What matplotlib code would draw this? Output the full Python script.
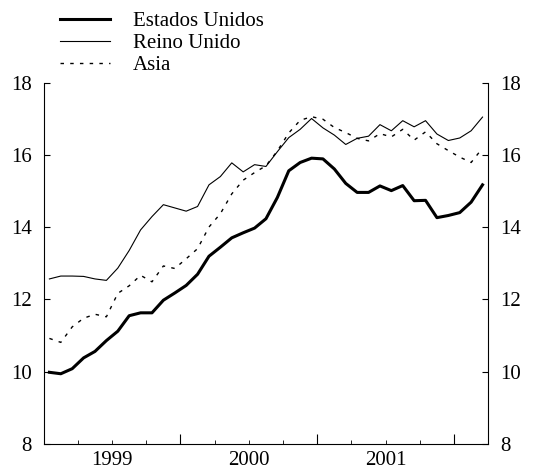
import numpy as np
import matplotlib.pyplot as plt
from matplotlib.ticker import FixedLocator, NullFormatter

plt.rcParams['font.family'] = ['Liberation Serif', 'DejaVu Serif']

# monthly data, Jan 1999 - Mar 2002
estados_unidos = [9.98, 9.94, 10.08, 10.38, 10.56, 10.86, 11.12, 11.55, 11.63, 11.63,
                  11.98, 12.18, 12.39, 12.70, 13.20, 13.45, 13.71, 13.85, 13.98, 14.24,
                  14.83, 15.57, 15.80, 15.92, 15.90, 15.62, 15.22, 14.97, 14.97, 15.15,
                  15.02, 15.16, 14.74, 14.75, 14.27, 14.33, 14.41, 14.70, 15.18]
reino_unido = [12.57, 12.65, 12.65, 12.64, 12.57, 12.53, 12.87, 13.36, 13.93, 14.30,
               14.63, 14.54, 14.45, 14.58, 15.18, 15.41, 15.79, 15.54, 15.74, 15.69,
               16.10, 16.49, 16.72, 17.02, 16.76, 16.56, 16.30, 16.47, 16.53, 16.85,
               16.68, 16.96, 16.79, 16.96, 16.59, 16.41, 16.48, 16.68, 17.06]
asia = [10.92, 10.81, 11.24, 11.48, 11.59, 11.52, 12.17, 12.38, 12.67, 12.49,
        12.93, 12.86, 13.13, 13.41, 14.01, 14.38, 14.93, 15.31, 15.52, 15.71,
        16.12, 16.62, 16.97, 17.07, 17.00, 16.77, 16.63, 16.47, 16.40, 16.60,
        16.51, 16.72, 16.42, 16.65, 16.32, 16.13, 15.95, 15.80, 16.20]
years = [1999, 2000, 2001]

x = 1999 + (np.arange(len(estados_unidos)) + 0.5) / 12

fig = plt.figure(figsize=(5.33, 4.7), dpi=100)
ax = fig.add_axes([0.082, 0.056, 0.834, 0.767])

ax.plot(x, estados_unidos, color='black', lw=2.2, label='Estados Unidos')
ax.plot(x, reino_unido, color='black', lw=0.8, label='Reino Unido')
ax.plot(x, asia, color='black', lw=1.0, dashes=(2.5, 4.5), label='Asia')

ax.set_xlim(1999, 2002.25)
ax.set_ylim(8, 18)
ax.spines['top'].set_visible(False)

ax.set_yticks(range(8, 19, 2))
ax.tick_params(axis='y', direction='in', length=4, labelsize=15, pad=8.5,
               left=True, right=True, labelleft=True, labelright=True)

ax.xaxis.set_major_locator(FixedLocator([2000, 2001, 2002]))
ax.xaxis.set_minor_locator(FixedLocator(np.arange(1999.25, 2002.25, 0.25)))
ax.xaxis.set_major_formatter(NullFormatter())
ax.tick_params(axis='x', which='major', direction='in', length=7)
ax.tick_params(axis='x', which='minor', direction='in', length=3)

for yr in years:
    ax.annotate(str(yr), xy=(yr + 0.5, 0), xycoords=('data', 'axes fraction'),
                xytext=(0, -5), textcoords='offset points',
                ha='center', va='top', fontsize=15)

fig.legend(loc='upper left', bbox_to_anchor=(0.078, 1.016), frameon=False,
           fontsize=15, handlelength=2.4, handletextpad=1.1, labelspacing=0.12)

fig.savefig('out.png', dpi=100)
